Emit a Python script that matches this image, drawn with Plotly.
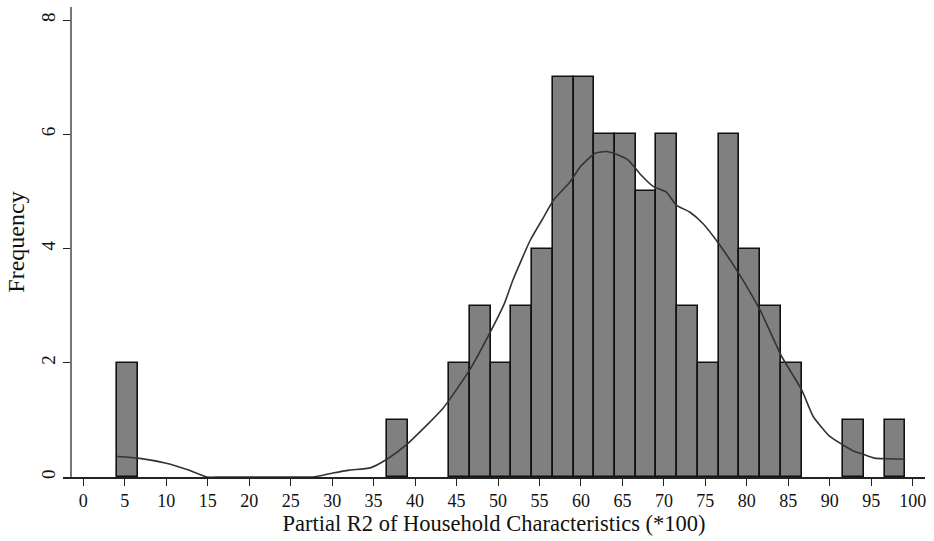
import numpy as np
import plotly.graph_objects as go

# Histogram of partial R2 (x100), bins of width 2.5 starting at the sample minimum
bin_start = 4.1
bin_width = 2.5
counts = [2, 0, 0, 0, 0, 0, 0, 0, 0, 0, 0, 0, 0, 1, 0, 0,
          2, 3, 2, 3, 4, 7, 7, 6, 6, 5, 6, 3, 2, 6, 4, 3, 2,
          0, 0, 1, 0, 1]

# Kernel density overlay, scaled to frequency units
dens_x = [4.1, 6.6, 10.0, 12.5, 14.9, 16.5, 20.0, 26.0, 27.7, 30.1, 32.1, 34.6, 36.6,
          39.0, 43.4, 46.6, 49.0, 50.8, 51.8, 53.9, 55.3, 56.7, 58.7, 59.9,
          61.7, 63.1, 64.1, 65.7, 67.1, 68.7, 70.3, 71.5, 73.1, 74.7, 76.6,
          79.0, 81.6, 84.2, 86.6, 88.0, 90.0, 91.6, 92.9, 94.0, 95.4, 97.0, 99.1]
dens_y = [0.36, 0.33, 0.24, 0.13, 0.0, 0.0, 0.0, 0.0, 0.0, 0.07, 0.12, 0.16, 0.31,
          0.57, 1.21, 1.88, 2.52, 3.05, 3.45, 4.15, 4.50, 4.85, 5.17, 5.43,
          5.67, 5.70, 5.66, 5.55, 5.31, 5.09, 4.99, 4.76, 4.64, 4.44, 4.09,
          3.57, 2.92, 2.11, 1.53, 1.06, 0.71, 0.56, 0.45, 0.40, 0.33, 0.32, 0.31]

x_ticks = list(range(0, 101, 5))
y_ticks = [0, 2, 4, 6, 8]

centers = bin_start + bin_width * (np.arange(len(counts)) + 0.5)
shown = [i for i, c in enumerate(counts) if c > 0]

FONT = "Liberation Serif, Times New Roman, serif"

fig = go.Figure()
fig.add_trace(go.Bar(
    x=[centers[i] for i in shown],
    y=[counts[i] for i in shown],
    width=bin_width,
    marker=dict(color="#808080", line=dict(color="#111111", width=1.6)),
    hoverinfo="x+y",
))
fig.add_trace(go.Scatter(
    x=dens_x, y=dens_y, mode="lines",
    line=dict(color="#333333", width=1.6, shape="spline", smoothing=0.5),
    hoverinfo="skip",
))

fig.update_layout(
    width=934, height=541,
    margin=dict(l=63, r=9, t=7, b=64),
    paper_bgcolor="white", plot_bgcolor="white",
    showlegend=False,
    bargap=0,
    font=dict(family=FONT, color="#111111"),
    xaxis=dict(
        range=[-2.45, 101.48],
        tickvals=x_ticks,
        ticks="outside", ticklen=7, tickwidth=1.3, tickcolor="#222222",
        showline=True, linecolor="#222222", linewidth=1.5,
        showgrid=False, zeroline=False,
        tickfont=dict(size=18, family=FONT, color="#111111"),
        title=dict(text="Partial R2 of Household Characteristics (*100)",
                   font=dict(size=22.5, family=FONT, color="#111111"),
                   standoff=4),
    ),
    yaxis=dict(
        range=[0, 8.23],
        anchor="free", position=8 / 862,
        tickvals=y_ticks,
        tickangle=-90,
        ticks="outside", ticklen=7, tickwidth=1.3, tickcolor="#222222",
        showline=True, linecolor="#777777", linewidth=2,
        showgrid=False, zeroline=False,
        tickfont=dict(size=19, family=FONT, color="#111111"),
        title=dict(text="Frequency",
                   font=dict(size=24, family=FONT, color="#111111"),
                   standoff=6),
    ),
)

fig.write_html("out.html")
